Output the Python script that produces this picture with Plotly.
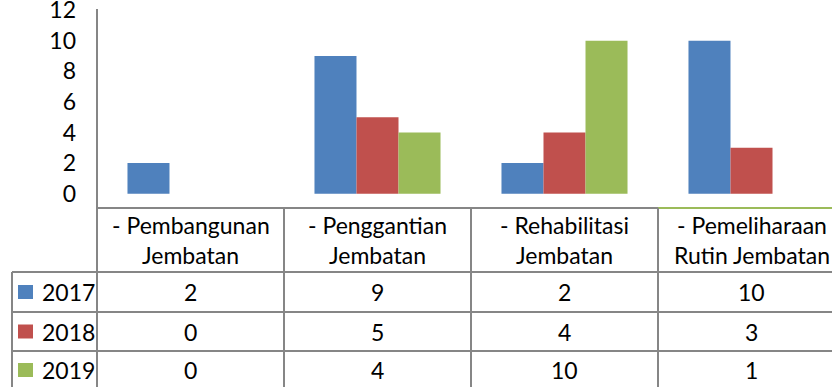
import plotly.graph_objects as go

# Jumlah kegiatan jembatan per tahun
categories = [
    "- Pembangunan\nJembatan",
    "- Penggantian\nJembatan",
    "- Rehabilitasi\nJembatan",
    "- Pemeliharaan\nRutin Jembatan",
]
years = ["2017", "2018", "2019"]
values_2017 = [2, 9, 2, 10]
values_2018 = [0, 5, 4, 3]
values_2019 = [0, 4, 10, 1]
y_ticks = [0, 2, 4, 6, 8, 10, 12]

series = [values_2017, values_2018, values_2019]
colors = ["#4F81BD", "#C0504D", "#9BBB59"]

W, H = 832, 387
FONT = "Lato"
FSIZE = 23
GRID = "#868686"


def px_x(p):
    return p / W


def px_y(p):
    return 1 - p / H


# plot area geometry (pixels)
left_px = 97
top_px = 9
axis_px = 208
cat_px = 187.0
zero_px = 193.7
unit_px = 15.3

x = list(range(len(categories)))
x_range = [-0.5, -0.5 + (W - left_px) / cat_px]
y_min = -(axis_px - zero_px) / unit_px
y_max = (zero_px - top_px) / unit_px

fig = go.Figure()
for name, vals, col in zip(years, series, colors):
    # the last 2019 bar is shown only as the coloured rule on the table header
    opac = [0 if (name == "2019" and i == len(vals) - 1) else 1 for i in range(len(vals))]
    fig.add_trace(go.Bar(
        x=x, y=vals, name=name,
        marker=dict(color=col, line=dict(width=0), opacity=opac),
        showlegend=False, hoverinfo="skip",
    ))

fig.update_layout(
    width=W, height=H,
    margin=dict(l=0, r=0, t=0, b=0, autoexpand=False),
    paper_bgcolor="white", plot_bgcolor="white",
    barmode="group", bargap=0.326, bargroupgap=0,
    font=dict(family=FONT, size=FSIZE, color="black"),
    xaxis=dict(
        domain=[px_x(left_px), 1], range=x_range,
        showticklabels=False, showgrid=False, zeroline=False,
        showline=False, ticks="", fixedrange=True, automargin=False,
    ),
    yaxis=dict(
        domain=[px_y(axis_px), px_y(top_px)], range=[y_min, y_max],
        tickvals=y_ticks, ticktext=[str(t) for t in y_ticks],
        showgrid=False, zeroline=False, showline=False, ticks="",
        tickfont=dict(family=FONT, size=FSIZE, color="black"),
        ticklabelstandoff=20, ticklabeloverflow="allow",
        automargin=False, fixedrange=True,
    ),
)

shapes = []
line = dict(color=GRID, width=2)

# vertical axis line continuing as the table's left border
shapes.append(dict(type="line", xref="paper", yref="paper",
                   x0=px_x(left_px), x1=px_x(left_px), y0=px_y(top_px), y1=0, line=line))

# table rows (pixels)
row_edges = [272, 312, 351]
row_centers = [292, 331.5, 370]
table_left = 12

# header top border: grey, last column in series-2019 green
n = len(categories)
shapes.append(dict(type="line", xref="x", yref="paper",
                   x0=-0.5, x1=n - 1.5, y0=px_y(axis_px), y1=px_y(axis_px), line=line))
shapes.append(dict(type="line", xref="x", yref="paper",
                   x0=n - 1.5, x1=x_range[1], y0=px_y(axis_px), y1=px_y(axis_px),
                   line=dict(color=colors[2], width=2)))

# column separators
for i in range(n - 1):
    shapes.append(dict(type="line", xref="x", yref="paper",
                       x0=i + 0.5, x1=i + 0.5, y0=px_y(axis_px), y1=0, line=line))

# horizontal row lines
for r in row_edges:
    shapes.append(dict(type="line", xref="paper", yref="paper",
                       x0=px_x(table_left), x1=1, y0=px_y(r), y1=px_y(r), line=line))

# legend column left border
shapes.append(dict(type="line", xref="paper", yref="paper",
                   x0=px_x(table_left), x1=px_x(table_left), y0=px_y(row_edges[0]), y1=0, line=line))

annotations = []

# category header, two lines each
for i, cat in enumerate(categories):
    l1, l2 = cat.split("\n")
    for txt, yc in ((l1, 224.5), (l2, 254.5)):
        annotations.append(dict(x=i, y=px_y(yc), xref="x", yref="paper", text=txt,
                                showarrow=False, xanchor="center", yanchor="middle",
                                font=dict(family=FONT, size=FSIZE, color="black")))

# legend keys and values
for name, vals, col, yc in zip(years, series, colors, row_centers):
    shapes.append(dict(type="rect", xref="paper", yref="paper",
                       x0=px_x(18), x1=px_x(33), y0=px_y(yc - 7), y1=px_y(yc + 7),
                       fillcolor=col, line=dict(width=0)))
    annotations.append(dict(x=px_x(40), y=px_y(yc), xref="paper", yref="paper", text=name,
                            showarrow=False, xanchor="left", yanchor="middle",
                            font=dict(family=FONT, size=FSIZE, color="black")))
    for i, v in enumerate(vals):
        annotations.append(dict(x=i, y=px_y(yc), xref="x", yref="paper", text=str(v),
                                showarrow=False, xanchor="center", yanchor="middle",
                                font=dict(family=FONT, size=FSIZE, color="black")))

fig.update_layout(shapes=shapes, annotations=annotations)
fig.write_html("out.html")
